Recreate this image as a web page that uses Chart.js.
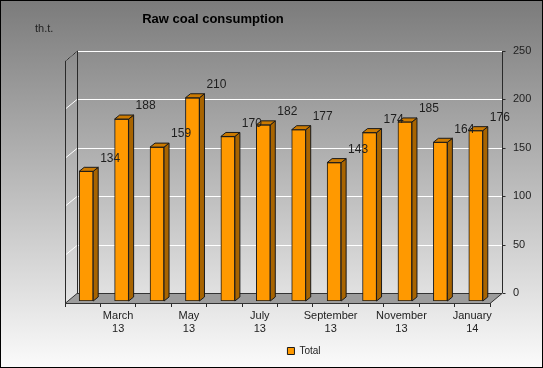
<!DOCTYPE html>
<html>
<head>
<meta charset="utf-8">
<script src="https://cdn.jsdelivr.net/npm/chart.js@4"></script>
<style>
  html, body { margin: 0; padding: 0; background: #fff; }
  #wrap { width: 543px; height: 368px; }
</style>
</head>
<body>
<div id="wrap"><canvas id="c" width="543" height="368"></canvas></div>
<script>
const categories = ['February 13', 'March 13', 'April 13', 'May 13', 'June 13', 'July 13',
  'August 13', 'September 13', 'October 13', 'November 13', 'December 13', 'January 14'];
const totalValues = [134, 188, 159, 210, 170, 182, 177, 143, 174, 185, 164, 176];
const yTicks = [0, 50, 100, 150, 200, 250];
const seriesName = 'Total';
const chartTitle = 'Raw coal consumption';
const unitLabel = 'th.t.';

// 3D look parameters (pixels)
const WALL_DX = 12, WALL_DY = -10;   // back wall offset from front plane
const BAR_DX = 3.5, BAR_DY = -2;     // bar front face offset from front plane
const BAR_DEPTH_X = 5, BAR_DEPTH_Y = -4;
const PLOT_H = 241;                  // pixels for 0..250 on walls
const yMaxFront = 250 * (PLOT_H - WALL_DY) / PLOT_H;
const y2Min = 250 * WALL_DY / PLOT_H;

const FONT = '"Liberation Sans", Arial, sans-serif';

const depthPlugin = {
  id: 'depth3d',
  beforeDraw(chart) {
    const ctx = chart.ctx, W = chart.width, H = chart.height;
    ctx.save();
    const g = ctx.createLinearGradient(0, 0, 0, H);
    g.addColorStop(0, '#7b7b7b');
    g.addColorStop(0.45, '#b4b4b4');
    g.addColorStop(1, '#fbfbfb');
    ctx.fillStyle = g;
    ctx.fillRect(0, 0, W, H);
    ctx.strokeStyle = '#000';
    ctx.lineWidth = 1;
    ctx.strokeRect(0.5, 0.5, W - 1, H - 1);
    ctx.restore();
  },
  beforeDatasetsDraw(chart) {
    const ctx = chart.ctx, a = chart.chartArea;
    const yF = chart.scales.y, y2 = chart.scales.y2;
    const L = a.left, R = a.right;
    const f0 = yF.getPixelForValue(0), fTop = yF.getPixelForValue(250);
    ctx.save();
    ctx.lineWidth = 1;
    // white gridlines on back wall and left wall
    ctx.strokeStyle = '#ffffff';
    yTicks.forEach(v => {
      if (v === 0) return;
      const yb = Math.round(y2.getPixelForValue(v)) + 0.5;
      const yf = Math.round(yF.getPixelForValue(v)) + 0.5;
      ctx.beginPath();
      ctx.moveTo(L + WALL_DX, yb);
      ctx.lineTo(R + WALL_DX, yb);
      ctx.stroke();
      ctx.beginPath();
      ctx.moveTo(L + 1, yf - 1);
      ctx.lineTo(L + WALL_DX, yb);
      ctx.stroke();
    });
    // floor
    ctx.fillStyle = '#9c9c9c';
    ctx.strokeStyle = '#333';
    ctx.beginPath();
    ctx.moveTo(L, f0 + 0.5);
    ctx.lineTo(L + WALL_DX, f0 + WALL_DY + 0.5);
    ctx.lineTo(R + WALL_DX, f0 + WALL_DY + 0.5);
    ctx.lineTo(R, f0 + 0.5);
    ctx.closePath();
    ctx.fill();
    ctx.stroke();
    // left wall edges
    ctx.strokeStyle = '#2a2a2a';
    ctx.beginPath();
    ctx.moveTo(L + 0.5, f0);
    ctx.lineTo(L + 0.5, fTop);
    ctx.lineTo(L + WALL_DX + 0.5, fTop + WALL_DY);
    ctx.lineTo(L + WALL_DX + 0.5, f0 + WALL_DY);
    ctx.stroke();
    // right (value) axis line on back plane with ticks
    const xa = R + WALL_DX + 0.5;
    ctx.beginPath();
    ctx.moveTo(xa, y2.getPixelForValue(250));
    ctx.lineTo(xa, y2.getPixelForValue(0));
    ctx.stroke();
    yTicks.forEach(v => {
      const yy = Math.round(y2.getPixelForValue(v)) + 0.5;
      ctx.beginPath();
      ctx.moveTo(xa, yy);
      ctx.lineTo(xa + 3, yy);
      ctx.stroke();
    });
    ctx.restore();
    ctx.save();
    ctx.translate(BAR_DX, BAR_DY);
  },
  afterDatasetsDraw(chart) {
    const ctx = chart.ctx;
    const meta = chart.getDatasetMeta(0);
    ctx.lineWidth = 1;
    ctx.strokeStyle = '#1a1a1a';
    meta.data.forEach((el, i) => {
      const p = el.getProps(['x', 'y', 'base', 'width'], true);
      const l = p.x - p.width / 2, r = p.x + p.width / 2, t = p.y, b = p.base;
      // side face
      ctx.fillStyle = '#a86400';
      ctx.beginPath();
      ctx.moveTo(r, t);
      ctx.lineTo(r + BAR_DEPTH_X, t + BAR_DEPTH_Y);
      ctx.lineTo(r + BAR_DEPTH_X, b + BAR_DEPTH_Y);
      ctx.lineTo(r, b);
      ctx.closePath();
      ctx.fill();
      ctx.stroke();
      // top face
      ctx.fillStyle = '#cc7a00';
      ctx.beginPath();
      ctx.moveTo(l, t);
      ctx.lineTo(l + BAR_DEPTH_X, t + BAR_DEPTH_Y);
      ctx.lineTo(r + BAR_DEPTH_X, t + BAR_DEPTH_Y);
      ctx.lineTo(r, t);
      ctx.closePath();
      ctx.fill();
      ctx.stroke();
    });
    // data labels
    ctx.fillStyle = '#1e1e1e';
    ctx.font = '12px ' + FONT;
    ctx.textAlign = 'center';
    ctx.textBaseline = 'middle';
    meta.data.forEach((el, i) => {
      const p = el.getProps(['x', 'y'], true);
      ctx.fillText(String(totalValues[i]), p.x + 24, p.y - 13);
    });
    ctx.restore();
  },
  afterDraw(chart) {
    const ctx = chart.ctx;
    ctx.save();
    ctx.fillStyle = '#000';
    ctx.font = 'bold 13px ' + FONT;
    ctx.textAlign = 'center';
    ctx.textBaseline = 'middle';
    ctx.fillText(chartTitle, 213, 19);
    ctx.fillStyle = '#222';
    ctx.font = '11px ' + FONT;
    ctx.textAlign = 'left';
    ctx.fillText(unitLabel, 35, 29);
    ctx.restore();
  }
};

new Chart(document.getElementById('c'), {
  type: 'bar',
  data: {
    labels: categories,
    datasets: [{
      label: seriesName,
      data: totalValues,
      backgroundColor: '#ff9900',
      borderColor: '#1a1a1a',
      borderWidth: 1,
      borderSkipped: false,
      barThickness: 14,
      yAxisID: 'y'
    }]
  },
  options: {
    responsive: false,
    animation: false,
    devicePixelRatio: 1,
    layout: { padding: { left: 65, right: 0, top: 51, bottom: 2 } },
    plugins: {
      title: { display: false },
      tooltip: { enabled: false },
      legend: {
        display: true,
        position: 'bottom',
        labels: {
          boxWidth: 7,
          boxHeight: 7,
          padding: 8,
          color: '#222',
          font: { family: FONT, size: 10 }
        }
      }
    },
    scales: {
      x: {
        offset: true,
        afterFit(s) { s.height = 35; },
        grid: { display: true, drawOnChartArea: false, offset: true, drawTicks: true, tickLength: 4, color: '#2a2a2a' },
        border: { display: true, color: '#2a2a2a' },
        ticks: {
          autoSkip: false,
          maxRotation: 0,
          padding: 2,
          color: '#222',
          font: { family: FONT, size: 11 },
          callback(v, i) {
            if (i % 2 === 0) return '';
            return categories[i].split(' ');
          }
        }
      },
      y: {
        display: false,
        min: 0,
        max: yMaxFront
      },
      y2: {
        position: 'right',
        min: y2Min,
        max: 250,
        afterFit(s) { s.width = 53; },
        afterBuildTicks(s) { s.ticks = yTicks.map(v => ({ value: v })); },
        grid: { display: false, drawTicks: false },
        border: { display: false },
        ticks: {
          padding: 23,
          color: '#222',
          font: { family: FONT, size: 11 }
        }
      }
    }
  },
  plugins: [depthPlugin]
});
</script>
</body>
</html>
